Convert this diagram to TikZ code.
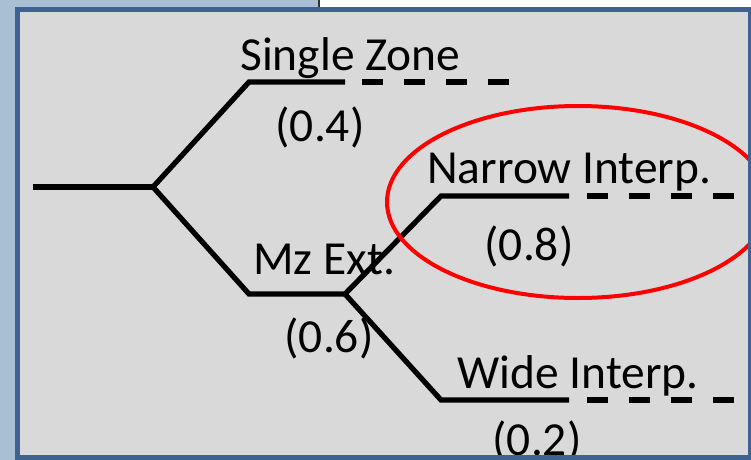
\documentclass[tikz,border=0pt]{standalone}
\usepackage{fontspec}
\setmainfont{Carlito}
\usetikzlibrary{positioning}

\definecolor{panelgray}{RGB}{217,217,217}
\definecolor{frameblue}{RGB}{62,99,146}
\definecolor{backblue}{RGB}{168,191,212}

\tikzset{
  branch/.style={line width=0.105cm, line cap=butt, line join=miter},
  tail/.style={line width=0.105cm, dash pattern=on 0.42cm off 0.42cm},
  label/.style={inner sep=0pt, font=\fontsize{27}{32}\selectfont}
}

\begin{document}
\begin{tikzpicture}[x=0.02cm, y=-0.02cm]
\useasboundingbox (0,0) rectangle (751,460);
% background outside the panel
\fill[backblue] (0,0) rectangle (751,460);
\fill[white] (320,0) rectangle (751,9);
\draw[black!80, line width=0.04cm] (319,0) -- (319,8);
\fill[panelgray] (17.5,9.5) rectangle (750.5,457.5);

\coordinate (root) at (33,187);
\coordinate (A) at (153,187);
\coordinate (SZ) at (249,82);
\coordinate (SZe) at (345,82);
\coordinate (SZd) at (362,82);
\coordinate (SZt) at (510,82);
\coordinate (MZ) at (249,294);
\coordinate (B) at (345,294);
\coordinate (NI) at (441,196);
\coordinate (NIe) at (569,196);
\coordinate (NId) at (587,196);
\coordinate (NIt) at (735,196);
\coordinate (WI) at (441,400);
\coordinate (WIe) at (569,400);
\coordinate (WId) at (587,400);
\coordinate (WIt) at (735,400);

% tree
\draw[branch] (root) -- (A);
\draw[branch] (A) -- (SZ) -- (SZe);
\draw[tail] (SZd) -- (SZt);
\draw[branch] (A) -- (MZ) -- (B);
\draw[branch] (B) -- (NI) -- (NIe);
\draw[tail] (NId) -- (NIt);
\draw[branch] (B) -- (WI) -- (WIe);
\draw[tail] (WId) -- (WIt);

% labels
\node[label, anchor=base west] (szname) at (240,70) {Single Zone};
\node[label, anchor=base] (szp) at (320,141) {(0.4)};
\node[label, anchor=base west] (mzname) at (253,274) {Mz Ext.};
\node[label, anchor=base] (mzp) at (329,352) {(0.6)};
\node[label, anchor=base west] (niname) at (427,183) {Narrow Interp.};
\node[label, anchor=base] (nip) at (529,260) {(0.8)};
\node[label, anchor=base west] (winame) at (457,388) {Wide Interp.};
\node[label, anchor=base] (wip) at (537,455) {(0.2)};

% highlight
\draw[red, line width=0.08cm] (578,202) ellipse [x radius=191, y radius=96];

% panel frame
\draw[frameblue, line width=0.1cm] (17.5,9.5) rectangle (750.5,457.5);
\end{tikzpicture}
\end{document}
